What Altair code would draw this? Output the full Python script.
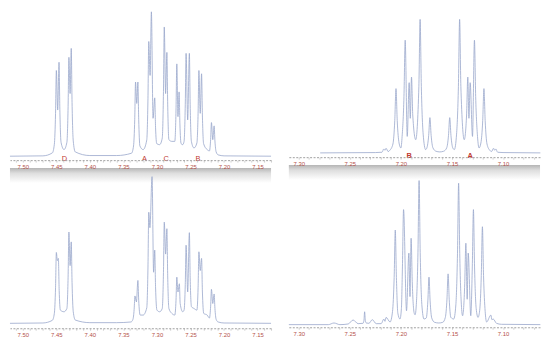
import altair as alt
import pandas as pd

# ---------------- data (ppm, intensity) ----------------
TL_ppm = [7.519, 7.47, 7.4559, 7.4529, 7.4511, 7.4499, 7.4479, 7.4459, 7.4447, 7.4429,
          7.4385, 7.4342, 7.4324, 7.4312, 7.4294, 7.4277, 7.4265, 7.4247, 7.4217, 7.40,
          7.36, 7.3379, 7.3349, 7.3331, 7.3319, 7.3301, 7.3284, 7.3272, 7.3254, 7.3206,
          7.3152, 7.3134, 7.3122, 7.3102, 7.3083, 7.3058, 7.3033, 7.3021, 7.3003, 7.2960,
          7.2921, 7.2903, 7.2891, 7.2871, 7.2852, 7.2840, 7.2822, 7.2778, 7.2734, 7.2716,
          7.2704, 7.2687, 7.2670, 7.2658, 7.2640, 7.2616, 7.2596, 7.2578, 7.2566, 7.2542,
          7.2517, 7.2505, 7.2487, 7.2448, 7.2405, 7.2387, 7.2375, 7.2355, 7.2335, 7.2323,
          7.2305, 7.2252, 7.2218, 7.2200, 7.2188, 7.2168, 7.2148, 7.2136, 7.2118, 7.2088,
          7.20, 7.130]
TL_int = [0, 1, 10, 36, 130, 260, 140, 285, 142, 42,
          20, 42, 150, 300, 190, 327, 163, 46, 13, 2,
          2, 9, 31, 112, 225, 160, 225, 112, 31, 20,
          49, 174, 348, 245, 438, 115, 177, 88, 38, 35,
          55, 196, 392, 190, 315, 158, 50, 45, 45, 140,
          280, 120, 195, 98, 38, 35, 45, 156, 312, 110,
          312, 156, 45, 25, 40, 130, 260, 130, 250, 125,
          38, 20, 16, 51, 102, 50, 92, 46, 13, 4,
          1, 0]

TR_ppm = [7.279, 7.225, 7.2185, 7.2167, 7.2156, 7.2145, 7.2125, 7.2108, 7.2078, 7.2060,
          7.2048, 7.2036, 7.2018, 7.2000, 7.1988, 7.1970, 7.1958, 7.1938, 7.1919, 7.1908,
          7.1896, 7.1884, 7.1855, 7.1824, 7.1812, 7.1800, 7.1782, 7.1758, 7.1746, 7.1728,
          7.1716, 7.1704, 7.1686, 7.1656, 7.1619, 7.1582, 7.1552, 7.1534, 7.1522, 7.1510,
          7.1492, 7.1477, 7.1455, 7.1437, 7.1425, 7.1413, 7.1380, 7.1357, 7.1345, 7.1334,
          7.1322, 7.1299, 7.1280, 7.1268, 7.1250, 7.1235, 7.1217, 7.1199, 7.1187, 7.1175,
          7.1157, 7.1130, 7.1113, 7.1093, 7.1082, 7.1071, 7.1053, 7.100, 7.0635]
TR_int = [0, 1, 2, 12, 8, 14, 4, 8, 27, 98,
          195, 98, 30, 15, 50, 171, 342, 50, 213, 105,
          230, 115, 40, 202, 405, 202, 57, 10, 15, 53,
          107, 53, 15, 5, 3, 5, 15, 53, 107, 53,
          15, 10, 57, 202, 405, 202, 40, 115, 230, 105,
          213, 50, 342, 171, 50, 15, 30, 98, 195, 98,
          27, 8, 4, 14, 8, 12, 2, 1, 0]

BL_ppm = [7.519, 7.47, 7.4559, 7.4529, 7.4511, 7.4499, 7.4484, 7.4469, 7.4457, 7.4439,
          7.4385, 7.4342, 7.4324, 7.4312, 7.4294, 7.4277, 7.4265, 7.4247, 7.4217, 7.40,
          7.36, 7.3388, 7.3358, 7.3340, 7.3328, 7.3306, 7.3284, 7.3272, 7.3250, 7.3206,
          7.3152, 7.3134, 7.3122, 7.3105, 7.3073, 7.3050, 7.3033, 7.3021, 7.3000, 7.2960,
          7.2921, 7.2903, 7.2891, 7.2871, 7.2852, 7.2840, 7.2822, 7.2778, 7.2734, 7.2716,
          7.2704, 7.2687, 7.2666, 7.2654, 7.2616, 7.2596, 7.2578, 7.2566, 7.2542, 7.2517,
          7.2505, 7.2485, 7.2448, 7.2405, 7.2387, 7.2375, 7.2355, 7.2335, 7.2323, 7.2303,
          7.2252, 7.2218, 7.2200, 7.2188, 7.2168, 7.2148, 7.2136, 7.2118, 7.2088, 7.20,
          7.130]
BL_int = [0, 1, 9, 30, 108, 215, 190, 197, 100, 40,
          35, 45, 140, 277, 175, 247, 124, 35, 10, 2,
          2, 4, 12, 42, 83, 65, 130, 70, 25, 25,
          47, 168, 337, 290, 445, 155, 222, 111, 40, 35,
          45, 154, 307, 210, 287, 144, 45, 30, 25, 70,
          140, 95, 120, 60, 35, 40, 118, 237, 95, 275,
          138, 50, 45, 40, 108, 217, 160, 197, 98, 30,
          25, 16, 52, 103, 60, 89, 45, 12, 4, 1,
          0]

BR_ppm = [7.3097, 7.2710, 7.2655, 7.2597, 7.2516, 7.2468, 7.2419, 7.2371, 7.2362, 7.2355,
          7.2348, 7.2339, 7.2313, 7.2280, 7.2242, 7.2193, 7.2167, 7.2156, 7.2145, 7.2106,
          7.2082, 7.2066, 7.2055, 7.2044, 7.2030, 7.2009, 7.1995, 7.1985, 7.1974, 7.1945,
          7.1922, 7.1911, 7.1900, 7.1889, 7.1870, 7.1861, 7.1849, 7.1833, 7.1822, 7.1811,
          7.1795, 7.1774, 7.1752, 7.1736, 7.1725, 7.1714, 7.1698, 7.1670, 7.1629, 7.1590,
          7.1565, 7.1549, 7.1538, 7.1527, 7.1511, 7.1483, 7.1462, 7.1446, 7.1435, 7.1424,
          7.1408, 7.1396, 7.1375, 7.1364, 7.1351, 7.1341, 7.1316, 7.1301, 7.1290, 7.1279,
          7.1263, 7.1245, 7.1229, 7.1213, 7.1202, 7.1191, 7.1175, 7.1161, 7.1119, 7.1109,
          7.1096, 7.1064, 7.1015, 7.0635]
BR_int = [0, 0, 5, 0, 2, 14, 3, 4, 12, 39,
          12, 5, 4, 15, 3, 3, 17, 10, 22, 8,
          40, 143, 287, 143, 35, 17, 49, 175, 349, 42,
          217, 85, 262, 131, 35, 30, 61, 218, 437, 218,
          61, 17, 20, 72, 144, 72, 20, 7, 5, 7,
          22, 77, 154, 77, 22, 17, 60, 215, 429, 215,
          60, 27, 124, 247, 77, 217, 27, 175, 349, 175,
          49, 22, 42, 149, 297, 149, 40, 8, 29, 15,
          17, 4, 1, 0]

# multiplet labels
TL_letters = ["D", "A", "C", "B"]
TL_letter_ppm = [7.438, 7.3186, 7.2861, 7.2389]
TR_letters = ["B", "A"]
TR_letter_ppm = [7.1919, 7.1322]

# axis ticks (labels every 0.05 ppm)
LEFT_ticks = [7.51, 7.50, 7.49, 7.48, 7.47, 7.46, 7.45, 7.44, 7.43, 7.42, 7.41, 7.40,
              7.39, 7.38, 7.37, 7.36, 7.35, 7.34, 7.33, 7.32, 7.31, 7.30, 7.29, 7.28,
              7.27, 7.26, 7.25, 7.24, 7.23, 7.22, 7.21, 7.20, 7.19, 7.18, 7.17, 7.16,
              7.15, 7.14, 7.13]
RIGHT_ticks = [7.30, 7.29, 7.28, 7.27, 7.26, 7.25, 7.24, 7.23, 7.22, 7.21, 7.20, 7.19,
               7.18, 7.17, 7.16, 7.15, 7.14, 7.13, 7.12, 7.11, 7.10, 7.09, 7.08, 7.07]

for a, b in [(TL_ppm, TL_int), (TR_ppm, TR_int), (BL_ppm, BL_int), (BR_ppm, BR_int)]:
    assert len(a) == len(b), (len(a), len(b))

LINE = "#98a6cb"
RED = "#c0392f"
LABEL_RED = "#b5524a"


def panel(ppm, inten, xdom, ydom, w, h, ticks, letters=None, letter_ppm=None,
          bold=False, band=False):
    df = pd.DataFrame({"ppm": ppm, "i": inten})
    xscale = alt.Scale(domain=xdom, reverse=True, nice=False, zero=False)
    axis = alt.Axis(values=ticks, title=None, grid=False,
                    labelExpr="(round(datum.value*100) % 5 == 0) ? format(datum.value, '.2f') : ''",
                    labelColor=LABEL_RED, labelFont="Liberation Sans", labelFontSize=6,
                    labelPadding=1, labelFlush=False, labelOverlap=False,
                    domainColor="#a0a0a0", domainDash=[2, 1.5], domainWidth=1,
                    tickColor="#b0b0b0", tickSize=2, tickWidth=0.6, zindex=1)
    layers = []
    if band:
        grad = alt.Gradient(gradient="linear",
                            stops=[alt.GradientStop(color="#b6b6b6", offset=0),
                                   alt.GradientStop(color="#dedede", offset=0.35),
                                   alt.GradientStop(color="#ffffff", offset=1)],
                            x1=0, x2=0, y1=0, y2=1)
        layers.append(
            alt.Chart(alt.Data(values=[{}])).mark_rect(color=grad).encode(
                x=alt.value(0), x2=alt.value(w), y=alt.value(h + 8), y2=alt.value(h + 23))
        )
    layers.append(
        alt.Chart(df).mark_line(color=LINE, strokeWidth=0.8, interpolate="monotone").encode(
            x=alt.X("ppm:Q", scale=xscale, axis=axis),
            y=alt.Y("i:Q", scale=alt.Scale(domain=ydom, nice=False, zero=False), axis=None),
            order="ppm:Q",
        )
    )
    if letters:
        ldf = pd.DataFrame({"ppm": letter_ppm, "t": letters})
        layers.append(
            alt.Chart(ldf).mark_text(color=RED, fontSize=7.5, font="Liberation Sans",
                                     fontWeight="bold" if bold else "normal",
                                     baseline="middle", align="center").encode(
                x=alt.X("ppm:Q", scale=xscale, axis=axis), y=alt.value(h - 1), text="t:N")
        )
    return alt.layer(*layers).properties(width=w, height=h)


TL = panel(TL_ppm, TL_int, [7.130, 7.519], [-12, 438], 264, 150, LEFT_ticks,
           TL_letters, TL_letter_ppm, band=True)
TR = panel(TR_ppm, TR_int, [7.0638, 7.3097], [-13, 428], 254, 147, RIGHT_ticks,
           TR_letters, TR_letter_ppm, bold=True, band=True)
BL = panel(BL_ppm, BL_int, [7.130, 7.519], [-15, 444], 264, 153, LEFT_ticks)
BR = panel(BR_ppm, BR_int, [7.0638, 7.3097], [-8, 448], 254, 152, RIGHT_ticks)

chart = alt.concat(TL, TR, BL, BR, columns=2,
                   spacing={"row": 17, "column": 18}, bounds="flush").properties(
    padding=0, background="white"
).configure_view(stroke=None)

chart.save("out.html", embed_options={"renderer": "svg", "actions": False})
